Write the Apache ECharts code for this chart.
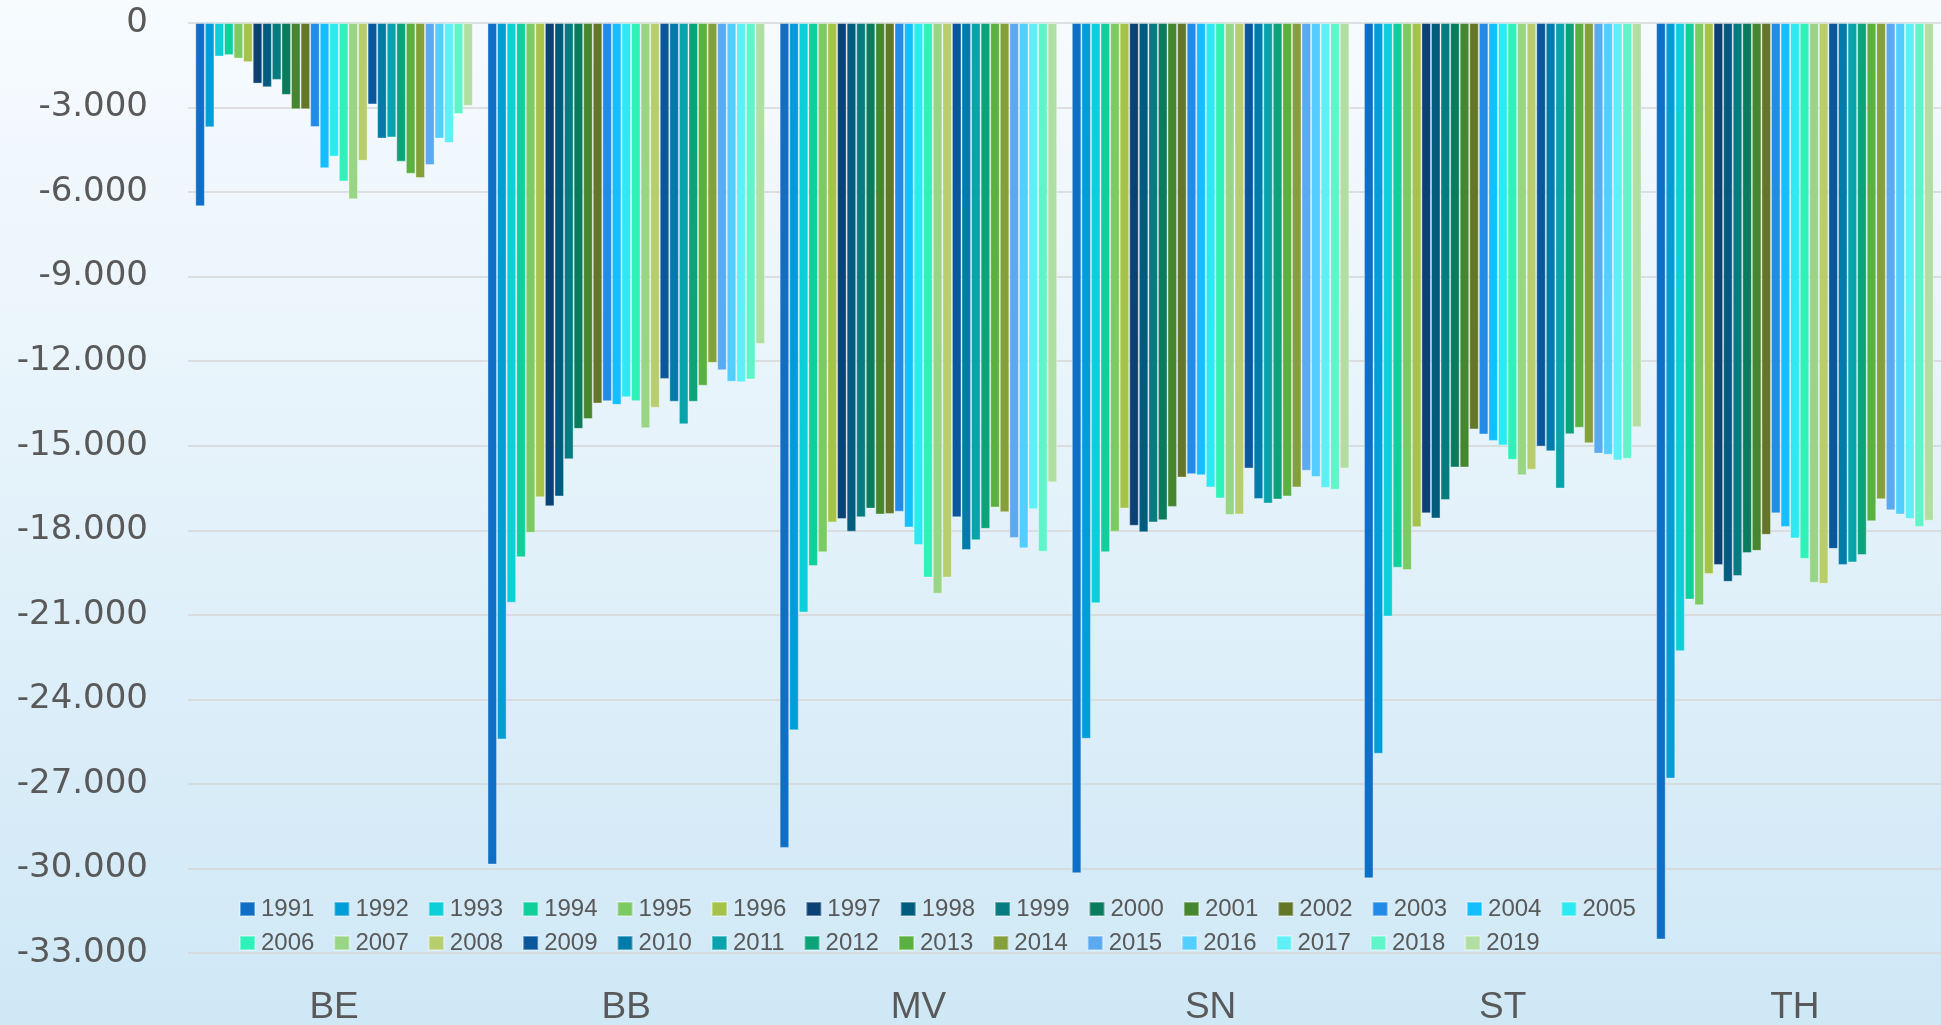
<!DOCTYPE html>
<html>
<head>
<meta charset="utf-8">
<title>Bars by state and year</title>
<script src="https://cdn.jsdelivr.net/npm/echarts@6.0.0/dist/echarts.min.js"></script>
<style>
  html, body { margin: 0; padding: 0; }
  #chart { width: 1941px; height: 1025px; }
</style>
</head>
<body>
<div id="chart"></div>
<script>
/* categories and years */
let CATEGORIES = ["BE", "BB", "MV", "SN", "ST", "TH"];
let YEARS = [
  "1991", "1992", "1993", "1994", "1995", "1996", "1997", "1998", "1999", "2000",
  "2001", "2002", "2003", "2004", "2005", "2006", "2007", "2008", "2009", "2010",
  "2011", "2012", "2013", "2014", "2015", "2016", "2017", "2018", "2019",
];

/* values per state, one entry per year 1991..2019 */
let VALUES_BE = [-6500, -3700, -1190, -1140, -1260, -1390, -2150, -2280, -2020, -2550, -3060, -3060, -3690, -5150, -4740, -5620, -6250, -4890, -2890, -4100, -4060, -4920, -5350, -5500, -5040, -4100, -4260, -3230, -2940];
let VALUES_BB = [-29860, -25420, -20570, -18960, -18090, -16830, -17150, -16800, -15480, -14400, -14050, -13500, -13420, -13550, -13280, -13420, -14380, -13650, -12630, -13440, -14240, -13440, -12870, -12060, -12320, -12730, -12750, -12650, -11390];
let VALUES_MV = [-29270, -25100, -20920, -19270, -18780, -17720, -17600, -18050, -17540, -17230, -17440, -17420, -17340, -17900, -18520, -19680, -20250, -19680, -17540, -18700, -18350, -17950, -17190, -17360, -18270, -18640, -17250, -18760, -16300];
let VALUES_SN = [-30170, -25400, -20590, -18780, -18050, -17230, -17840, -18070, -17720, -17640, -17170, -16130, -16010, -16050, -16480, -16870, -17460, -17440, -15810, -16890, -17050, -16910, -16800, -16480, -15890, -16110, -16500, -16560, -15810];
let VALUES_ST = [-30350, -25930, -21060, -19330, -19410, -17890, -17400, -17580, -16930, -15770, -15770, -14420, -14600, -14830, -14990, -15500, -16050, -15850, -15030, -15200, -16520, -14590, -14360, -14910, -15280, -15320, -15520, -15460, -14340];
let VALUES_TH = [-32520, -26810, -22290, -20460, -20660, -19550, -19230, -19830, -19620, -18810, -18730, -18160, -17400, -17880, -18290, -19010, -19860, -19900, -18660, -19230, -19140, -18880, -17680, -16900, -17290, -17440, -17600, -17880, -17660];

/* y axis range */
let Y_MIN = -33000;
let Y_MAX = 0;
let Y_STEP = 3000;

/* palette, one colour per year */
let COLORS = [
  "#0f6fc6", "#009dd9", "#0bd0d9", "#10cf9b", "#7cca62", "#a5c249",
  "#0a4276", "#005c7f", "#077c80", "#0a7b5c", "#45862f", "#647729",
  "#228be8", "#15bfff", "#2beaf2", "#2ef2b8", "#98d685", "#b8ce6e",
  "#0b579c", "#007cab", "#09a4ab", "#0ca37a", "#5bb13f", "#84a03a",
  "#5ba9f0", "#52ceff", "#5ef0f6", "#60f5c8", "#b0dfa1",
];

let TEXT_COLOR = "#595959";
let BY_STATE = [VALUES_BE, VALUES_BB, VALUES_MV, VALUES_SN, VALUES_ST, VALUES_TH];

/* "-3.000" style, dot as thousands separator */
function formatTick(v) {
  if (v === 0) return "0";
  let s = String(Math.abs(v)).replace(/\B(?=(\d{3})+(?!\d))/g, ".");
  return (v < 0 ? "-" : "") + s;
}

let series = YEARS.map(function (year, i) {
  return {
    name: year,
    type: "bar",
    data: BY_STATE.map(function (arr) { return arr[i]; }),
    barGap: "0%",
    barCategoryGap: "5%",
    itemStyle: {
      color: COLORS[i],
      borderColor: "rgba(255,255,255,0.35)",
      borderWidth: 1,
    },
  };
});

let legendBase = {
  orient: "horizontal",
  left: 239,
  padding: 0,
  icon: "rect",
  itemWidth: 15,
  itemHeight: 14,
  itemGap: 19,
  selectedMode: false,
  textStyle: {
    fontFamily: "Liberation Sans, Arial, sans-serif",
    fontSize: 24,
    color: TEXT_COLOR,
    padding: [0, 0, 0, 1],
  },
};

let chart = echarts.init(document.getElementById("chart"), null, { renderer: "canvas" });

chart.setOption({
  animation: false,
  color: COLORS,
  backgroundColor: new echarts.graphic.LinearGradient(0, 0, 0, 1, [
    { offset: 0, color: "#f7fbfe" },
    { offset: 1, color: "#cfe8f6" },
  ]),
  grid: {
    left: 188, right: 0, top: 23, bottom: 72,
    containLabel: false,
    outerBoundsMode: "none",
  },
  legend: [
    Object.assign({}, legendBase, { top: 897, data: YEARS.slice(0, 15) }),
    Object.assign({}, legendBase, { top: 931, data: YEARS.slice(15) }),
  ],
  xAxis: {
    type: "category",
    data: CATEGORIES,
    position: "bottom",
    axisLine: { show: false },
    axisTick: { show: false },
    axisLabel: {
      margin: 36,
      fontFamily: "Liberation Sans, Arial, sans-serif",
      fontSize: 37,
      color: TEXT_COLOR,
    },
  },
  yAxis: {
    type: "value",
    min: Y_MIN,
    max: Y_MAX,
    interval: Y_STEP,
    axisLine: { show: false },
    axisTick: { show: false },
    axisLabel: {
      margin: 40,
      fontFamily: "DejaVu Sans, sans-serif",
      fontSize: 34,
      color: TEXT_COLOR,
      formatter: formatTick,
    },
    splitLine: { lineStyle: { color: "#d6d6d6", width: 1.5 } },
  },
  series: series,
});
</script>
</body>
</html>
